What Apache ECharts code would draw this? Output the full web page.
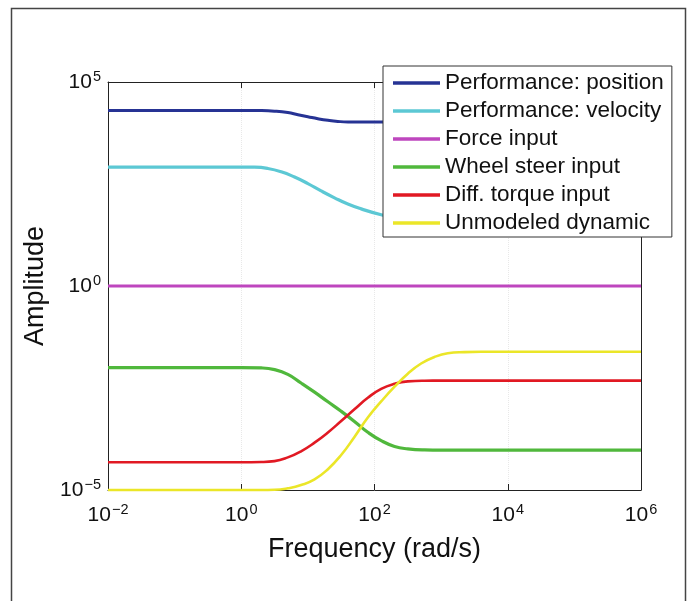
<!DOCTYPE html>
<html>
<head>
<meta charset="utf-8">
<script src="https://cdn.jsdelivr.net/npm/echarts@6/dist/echarts.min.js"></script>
<style>
html,body{margin:0;padding:0;background:#fff;}
#c{width:696px;height:601px;}
</style>
</head>
<body>
<div id="c"></div>
<script>
// ---- data (frequency in rad/s, amplitude) ----
const seriesNames = ['Performance: position','Performance: velocity','Force input','Wheel steer input','Diff. torque input','Unmodeled dynamic'];

const posFreq = [0.01, 1, 2, 3.16, 5, 7.1, 10, 14.1, 20, 28.2, 40, 125, 1e6];
const posAmp  = [2.0e4, 2.0e4, 1.99e4, 1.93e4, 1.78e4, 1.58e4, 1.41e4, 1.26e4, 1.15e4, 1.08e4, 1.05e4, 1.05e4, 1.05e4];

const velFreq = [0.01, 0.8, 1.58, 2.51, 3.98, 6.31, 10, 15.8, 25.1, 39.8, 63.1, 126, 316, 1000, 1e4, 1e6];
const velAmp  = [822, 822, 815, 759, 631, 468, 324, 214, 145, 102, 77.6, 55.6, 40, 31.6, 28, 28];

const forceFreq = [0.01, 1e6];
const forceAmp  = [1, 1];

const wheelFreq = [0.01, 1, 2, 3.16, 5, 7.9, 12.6, 20, 31.6, 50, 79.4, 126, 200, 316, 562, 1000, 1e6];
const wheelAmp  = [0.01, 0.01, 9.8e-3, 8.9e-3, 6.8e-3, 4.2e-3, 2.5e-3, 1.45e-3, 8.5e-4, 4.8e-4, 2.6e-4, 1.62e-4, 1.17e-4, 1.02e-4, 9.6e-5, 9.5e-5, 9.5e-5];

const torqueFreq = [0.01, 1, 2, 3.16, 5, 7.9, 12.6, 20, 31.6, 50, 79.4, 126, 200, 316, 562, 1000, 1e6];
const torqueAmp  = [4.8e-5, 4.8e-5, 4.85e-5, 5.1e-5, 6.3e-5, 8.9e-5, 1.45e-4, 2.57e-4, 4.9e-4, 9.5e-4, 1.82e-3, 3.0e-3, 4.0e-3, 4.6e-3, 4.78e-3, 4.8e-3, 4.8e-3];

const unmodFreq = [0.01, 2, 3.16, 5, 7.9, 12.6, 20, 31.6, 50, 79.4, 126, 200, 316, 501, 794, 1259, 2239, 4000, 1e6];
const unmodAmp  = [1e-5, 1e-5, 1.01e-5, 1.1e-5, 1.32e-5, 1.82e-5, 3.24e-5, 7.2e-5, 2.0e-4, 6.0e-4, 1.48e-3, 3.4e-3, 7.1e-3, 0.0126, 0.0182, 0.0224, 0.024, 0.0245, 0.0245];

const xTicks = [1e-2, 1e0, 1e2, 1e4, 1e6];
const yTicks = [1e-5, 1e0, 1e5];

const colors = ['#263394', '#5cc8d4', '#be46be', '#50b83c', '#e11923', '#ebe628'];
const widths = [3, 3.2, 3, 3.2, 2.6, 2.6];

// ---- chart ----
const freqs = [posFreq, velFreq, forceFreq, wheelFreq, torqueFreq, unmodFreq];
const amps = [posAmp, velAmp, forceAmp, wheelAmp, torqueAmp, unmodAmp];

function pow10Label(v) {
  const e = Math.round(Math.log10(v));
  return '{b|10}{s|' + (e < 0 ? '\u2212' : '') + Math.abs(e) + '}';
}
const richLbl = {
  b: {fontSize: 21, fontFamily: 'Liberation Sans', color: '#111', lineHeight: 26},
  s: {fontSize: 14.5, fontFamily: 'Liberation Sans', color: '#111', lineHeight: 26, verticalAlign: 'top', padding: [0, 0, 14, 1]}
};
const fmtX = v => xTicks.some(t => Math.abs(Math.log10(t) - Math.log10(v)) < 1e-6) ? pow10Label(v) : '';
const fmtY = v => yTicks.some(t => Math.abs(Math.log10(t) - Math.log10(v)) < 1e-6) ? pow10Label(v) : '';

const axisLine = {show: true, lineStyle: {color: '#222', width: 1}};

const chart = echarts.init(document.getElementById('c'), null, {renderer: 'canvas'});
chart.setOption({
  animation: false,
  backgroundColor: '#fff',
  graphic: [{
    type: 'rect', shape: {x: 11.5, y: 8.5, width: 674, height: 700},
    style: {fill: 'none', stroke: '#444', lineWidth: 1.5}, silent: true, z: 0
  }],
  grid: {left: 108, right: 55, top: 82, bottom: 111, containLabel: false},
  legend: {
    orient: 'vertical', left: 383, top: 66,
    backgroundColor: '#fff', borderColor: '#333', borderWidth: 1,
    padding: [5, 8, 2, 10], itemGap: 4, itemWidth: 47, itemHeight: 3.5,
    icon: 'rect',
    textStyle: {fontSize: 22.5, fontFamily: 'Liberation Sans', color: '#111', lineHeight: 24},
    data: seriesNames
  },
  xAxis: [{
    type: 'log', logBase: 10, min: 0.01, max: 1e6, interval: 2,
    name: 'Frequency (rad/s)', nameLocation: 'middle', nameGap: 42,
    nameTextStyle: {fontSize: 27, fontFamily: 'Liberation Sans', color: '#111'},
    axisLine: axisLine,
    axisTick: {show: true, inside: true, length: 6, lineStyle: {color: '#222'}},
    axisLabel: {formatter: fmtX, rich: richLbl, margin: 12},
    splitLine: {show: true, lineStyle: {color: '#e8e8e8', type: 'dotted', width: 1}},
    minorTick: {show: false}
  }, {
    type: 'log', logBase: 10, min: 0.01, max: 1e6, interval: 2, position: 'top',
    axisLine: axisLine,
    axisTick: {show: true, inside: true, length: 6, lineStyle: {color: '#222'}},
    axisLabel: {show: false}, splitLine: {show: false}
  }],
  yAxis: [{
    type: 'log', logBase: 10, min: 1e-5, max: 1e5, interval: 5,
    name: 'Amplitude', nameLocation: 'middle', nameGap: 59,
    nameTextStyle: {fontSize: 27, fontFamily: 'Liberation Sans', color: '#111'},
    axisLine: axisLine,
    axisTick: {show: true, inside: true, length: 6, lineStyle: {color: '#222'}},
    axisLabel: {formatter: fmtY, rich: richLbl, margin: 7},
    splitLine: {show: false}
  }, {
    type: 'log', logBase: 10, min: 1e-5, max: 1e5, interval: 5, position: 'right',
    axisLine: axisLine,
    axisTick: {show: true, inside: true, length: 6, lineStyle: {color: '#222'}},
    axisLabel: {show: false}, splitLine: {show: false}
  }],
  series: seriesNames.map((n, i) => ({
    name: n, type: 'line', xAxisIndex: 0, yAxisIndex: 0,
    data: freqs[i].map((f, j) => [f, amps[i][j]]),
    symbol: 'none', smooth: 0.5,
    clip: false,
    color: colors[i],
    lineStyle: {color: colors[i], width: widths[i]},
    z: 2
  }))
});
</script>
</body>
</html>
